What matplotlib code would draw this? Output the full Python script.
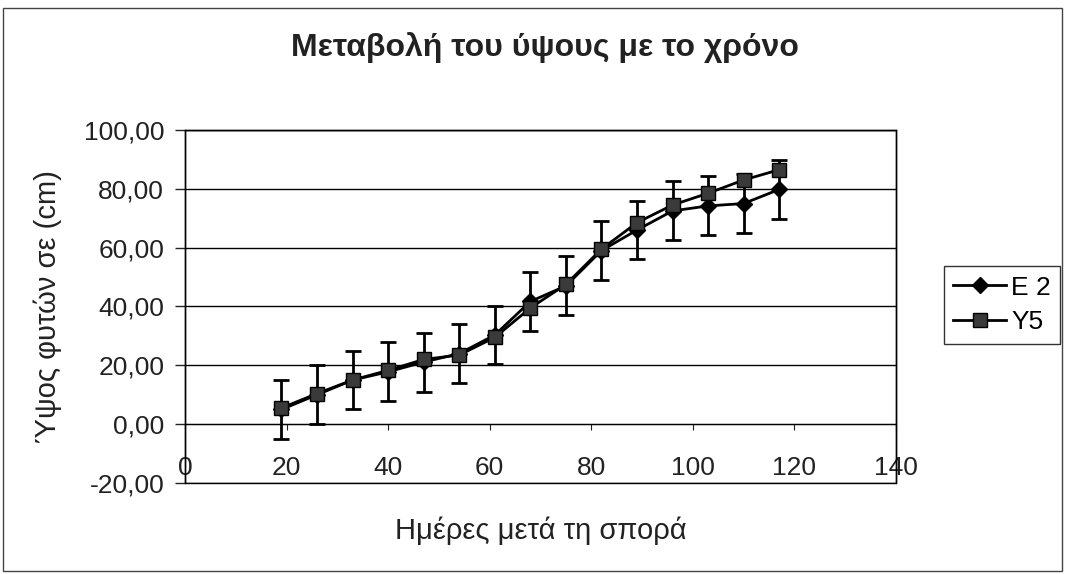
import matplotlib
matplotlib.use("Agg")
import matplotlib.pyplot as plt
from matplotlib.lines import Line2D
from matplotlib.patches import Rectangle

# days after sowing
days = [19, 26, 33, 40, 47, 54, 61, 68, 75, 82, 89, 96, 103, 110, 117]
# plant height (cm)
e2_height = [5.0, 10.0, 15.0, 17.8, 21.1, 24.0, 30.3, 41.7, 47.0, 59.0, 66.0, 72.5, 74.2, 75.0, 79.8]
e2_err = [10, 10, 10, 10, 10, 10, 10, 10, 10, 10, 10, 10, 10, 10, 10]
y5_height = [5.5, 10.4, 15.0, 18.3, 22.0, 23.5, 29.5, 39.5, 47.5, 59.5, 68.5, 74.5, 78.5, 83.0, 86.5]
series_names = ["E 2", "Y5"]
y_ticks = [-20, 0, 20, 40, 60, 80, 100]
x_ticks = [0, 20, 40, 60, 80, 100, 120, 140]

plt.rcParams['font.family'] = ['Liberation Sans', 'DejaVu Sans']

W, H = 1065, 574
fig = plt.figure(figsize=(W / 100, H / 100), dpi=100)
ax = fig.add_axes([185 / W, 1 - 483 / H, (896 - 185) / W, (483 - 130) / H])

# x axis crosses at y = 0 (set before tick labels, it resets them)
ax.spines['bottom'].set_position(('data', 0))

ax.set_xlim(0, 140)
ax.set_ylim(-20, 100)
ax.set_yticks(y_ticks)
ax.set_yticklabels([f"{v:.2f}".replace('.', ',') for v in y_ticks])
ax.set_xticks(x_ticks)
ax.set_xticklabels([str(v) for v in x_ticks])
ax.yaxis.grid(True, color='black', lw=1)
ax.set_axisbelow(True)

# E2 with error bars
ax.errorbar(days, e2_height, yerr=e2_err, fmt='-D', color='black', ms=8,
            lw=2, capsize=6, capthick=2, elinewidth=2, zorder=3)
# Y5
ax.plot(days, y5_height, '-s', color='black', mfc='#3a3a3a', mec='black',
        ms=10, lw=2, zorder=4)

for s in ['top', 'right', 'left']:
    ax.spines[s].set_linewidth(1)
ax.add_patch(Rectangle((0, 0), 1, 1, transform=ax.transAxes, fill=False,
                       edgecolor='black', lw=1, clip_on=False))
ax.tick_params(axis='x', direction='out', length=4, width=0.8, pad=19,
               colors='#222222', labelsize=19)
ax.tick_params(axis='y', direction='out', length=7, width=1, pad=8,
               colors='#222222', labelsize=19)

ax.set_ylabel('Ύψος φυτών σε (cm)', fontsize=21, color='#222222')
ax.yaxis.set_label_coords(-0.173, 0.5)

fig.text(541 / W, 1 - 531 / H, 'Ημέρες μετά τη σπορά', ha='center', va='center',
         fontsize=21, color='#222222')
fig.text(545 / W, 1 - 48 / H, 'Μεταβολή του ύψους με το χρόνο', ha='center',
         va='center', fontsize=23, fontweight='bold', color='#222222')

handles = [
    Line2D([], [], color='black', marker='D', ms=8, lw=2),
    Line2D([], [], color='black', marker='s', mfc='#3a3a3a', mec='black', ms=10, lw=2),
]
leg = fig.legend(handles, series_names, loc='center left',
                 bbox_to_anchor=(944 / W, 1 - 305 / H), fontsize=19,
                 frameon=True, fancybox=False, edgecolor='black',
                 handlelength=2.0, handletextpad=0.2, borderpad=0.35,
                 labelspacing=0.4, borderaxespad=0)
leg.get_frame().set_linewidth(1)

# chart area border
fig.add_artist(Rectangle((3 / W, 1 - 571 / H), (1062 - 3) / W, (571 - 8) / H,
                         transform=fig.transFigure, fill=False,
                         edgecolor='#444444', lw=1))

fig.savefig('out.png', dpi=100)
